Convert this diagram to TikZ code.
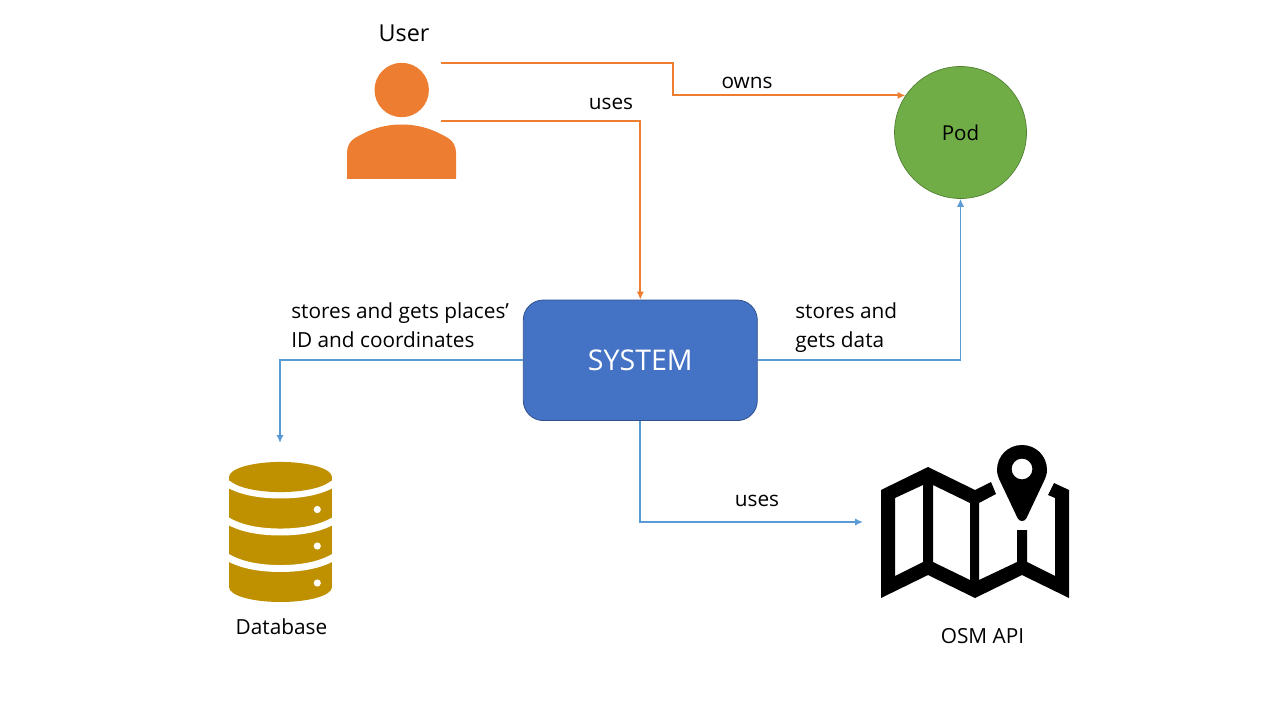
\documentclass[tikz,border=0pt]{standalone}
\usepackage{fontspec}
\setmainfont{Open Sans}
\usetikzlibrary{arrows.meta}
\definecolor{orangeC}{HTML}{ED7D31}
\definecolor{blueC}{HTML}{5B9BD5}
\definecolor{sysfill}{HTML}{4472C4}
\definecolor{sysline}{HTML}{2F528F}
\definecolor{podfill}{HTML}{70AD47}
\definecolor{podline}{HTML}{507E32}
\definecolor{dbC}{HTML}{BF9000}
\tikzset{
  lbl/.style={inner sep=0pt,font=\fontsize{15.6}{21.75}\selectfont,align=left,text=black},
  orangelink/.style={draw=orangeC,line width=1.5pt,-{Latex[length=6pt,width=5.5pt]}},
  bluelink/.style={draw=blueC,line width=1.4pt,-{Latex[length=6pt,width=5.5pt]}},
  dbband/.style={draw=white,line width=5.2pt}
}
\begin{document}
\begin{tikzpicture}[x=0.75pt,y=-0.75pt]
\useasboundingbox (0,0) rectangle (1280,720);
% user icon
\fill[orangeC] (401.7,90) circle[radius=20.4pt];
\fill[orangeC] (347,179) -- (347,153) .. controls (347,146) and (350,141) .. (355,138)
  .. controls (370,129) and (385,124.5) .. (401.5,124.5)
  .. controls (418,124.5) and (433,129) .. (448,138)
  .. controls (453,141) and (456,146) .. (456,153) -- (456,179) -- cycle;
% database icon
\begin{scope}
\clip (229,477) -- (229,587) .. controls (229,595.5) and (252,602) .. (280.5,602)
  .. controls (309,602) and (332,595.5) .. (332,587) -- (332,477) -- cycle;
\fill[dbC] (229,470) rectangle (332,605);
\foreach \y in {481,518,554.5}
  \draw[dbband] (222,\y-1) .. controls (235,\y+9) and (255,\y+14) .. (280.5,\y+14)
    .. controls (306,\y+14) and (326,\y+9) .. (339,\y-1);
\end{scope}
\fill[dbC] (280.5,477) ellipse[x radius=38.6pt,y radius=11.3pt];
\foreach \y in {509.5,546,583}
  \fill[white] (317.3,\y) circle[radius=2.7pt];
% map icon
\fill[black,even odd rule]
  (881,490) -- (928,467) -- (975,490) -- (991,482) -- (996,494) -- (979,503) -- (979,580)
  -- (1017,562) -- (1017,530) -- (1027,530) -- (1027,562) -- (1055,576) -- (1055,498)
  -- (1048,495) -- (1054,483) -- (1069,490) -- (1069,598) -- (1022,575) -- (975,598)
  -- (928,575) -- (881,598) -- cycle
  (895,498) -- (923,485) -- (923,562) -- (895,576) -- cycle
  (933,485) -- (970,503) -- (970,580) -- (933,562) -- cycle;
\fill[black,even odd rule]
  (1022,521) .. controls (1020,521) and (1018.5,520) .. (1017.5,518)
  -- (1000,481) .. controls (998,477) and (997,473) .. (997,470)
  .. controls (997,456) and (1008,445) .. (1022,445)
  .. controls (1036,445) and (1047,456) .. (1047,470)
  .. controls (1047,473) and (1046,477) .. (1044,481)
  -- (1026.5,518) .. controls (1025.5,520) and (1024,521) .. (1022,521) -- cycle
  (1022,469) circle[radius=7.8pt];
% main nodes
\node[draw=sysline,line width=0.6pt,fill=sysfill,rounded corners=15pt,minimum width=175.5pt,minimum height=90.4pt,inner sep=0pt,
  font=\fontsize{21.4}{25}\selectfont,text=white] (sys) at (640.3,360.3) {SYSTEM};
\node[circle,draw=podline,line width=0.5pt,fill=podfill,minimum size=99pt,inner sep=0pt,
  font=\fontsize{15.4}{18}\selectfont,text=black] (pod) at (960.5,132.5) {Pod};
% free ends
\coordinate (u1) at (441,63.5);
\coordinate (u2) at (441,121);
\coordinate (dbtop) at (280,443);
\coordinate (mapleft) at (863,522);
\coordinate (mid1) at (673,63.5);
% connectors
\draw[orangelink] (u1) -- (mid1) |- (pod.146);
\draw[orangelink] (u2) -| (sys.north);
\draw[bluelink] (sys.east) -| (pod.south);
\draw[bluelink] (sys.west) -| (dbtop);
\draw[bluelink] (sys.south) |- (mapleft);
% labels
\node[lbl,font=\fontsize{17.5}{21}\selectfont] (userlbl) at (404,33) {User};
\node[lbl] (ownslbl) at (747,83) {owns};
\node[lbl] (useslbl) at (611,104) {uses};
\node[lbl,anchor=west] (storesplaces) at (291,325.5) {stores and gets places’\\ID and coordinates};
\node[lbl,anchor=west] (storesdata) at (795,327.5) {stores and\\gets data};
\node[lbl] (uses2lbl) at (757,501) {uses};
\node[lbl] (dblbl) at (281.5,627) {Database};
\node[lbl] (osmlbl) at (982.5,636) {OSM API};
\end{tikzpicture}
\end{document}
